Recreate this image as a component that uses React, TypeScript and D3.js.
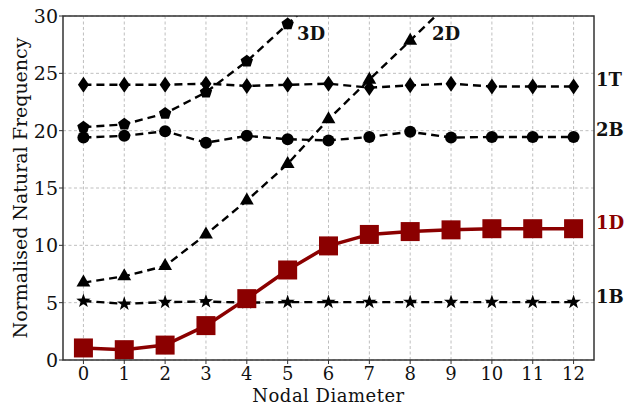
import React from "react";
import * as d3 from "d3";

const nodalDiameters = [0, 1, 2, 3, 4, 5, 6, 7, 8, 9, 10, 11, 12];
const yTicks = [0, 5, 10, 15, 20, 25, 30];

const mode1T = [24.0, 24.0, 24.0, 24.1, 23.9, 24.0, 24.1, 23.75, 23.95, 24.1, 23.85, 23.85, 23.85];
const mode2B = [19.4, 19.55, 19.95, 18.95, 19.55, 19.25, 19.15, 19.45, 19.9, 19.4, 19.45, 19.45, 19.45];
const mode3D = [20.3, 20.55, 21.5, 23.35, 26.05, 29.3, 32.5];
const mode2D = [6.75, 7.3, 8.2, 10.95, 13.9, 17.1, 21.0, 24.45, 27.85, 31.3];
const mode1B = [5.15, 4.9, 5.05, 5.1, 5.0, 5.05, 5.05, 5.05, 5.05, 5.05, 5.05, 5.05, 5.05];
const mode1D = [1.05, 0.9, 1.3, 3.0, 5.35, 7.85, 9.95, 10.95, 11.2, 11.35, 11.45, 11.45, 11.45];

const W = 634, H = 406;
const M = { left: 63, right: 594, top: 16, bottom: 360 };

function starPath(r: number) {
  const pts: string[] = [];
  for (let i = 0; i < 10; i++) {
    const rr = i % 2 === 0 ? r : r * 0.4;
    const a = -Math.PI / 2 + (i * Math.PI) / 5;
    pts.push(`${(rr * Math.cos(a)).toFixed(2)},${(rr * Math.sin(a)).toFixed(2)}`);
  }
  return "M" + pts.join("L") + "Z";
}
function polyPath(n: number, r: number) {
  const pts: string[] = [];
  for (let i = 0; i < n; i++) {
    const a = -Math.PI / 2 + (i * 2 * Math.PI) / n;
    pts.push(`${(r * Math.cos(a)).toFixed(2)},${(r * Math.sin(a)).toFixed(2)}`);
  }
  return "M" + pts.join("L") + "Z";
}
const diamond = "M0,-8L5.5,0L0,8L-5.5,0Z";
const triangle = polyPath(3, 8);
const pentagon = polyPath(5, 6.5);
const star = starPath(7.5);

export default function App() {
  const x = d3.scaleLinear().domain([-0.5, 12.5]).range([M.left, M.right]);
  const y = d3.scaleLinear().domain([0, 30]).range([M.bottom, M.top]);
  const line = d3
    .line<number>()
    .x((_, i) => x(nodalDiameters[i]))
    .y((d) => y(d));

  const serif = "'DejaVu Serif', serif";
  const series = [
    { data: mode1T, marker: diamond },
    { data: mode2B, marker: "circle" },
    { data: mode3D, marker: pentagon },
    { data: mode2D, marker: triangle },
    { data: mode1B, marker: star },
  ];

  return (
    <svg width={W} height={H} style={{ position: "absolute", left: 0, top: 0 }}>
      <defs>
        <clipPath id="plot">
          <rect x={M.left} y={M.top} width={M.right - M.left} height={M.bottom - M.top} />
        </clipPath>
      </defs>
      <rect width={W} height={H} fill="#fff" />
      {/* grid */}
      {nodalDiameters.map((d) => (
        <line key={"gx" + d} x1={x(d)} x2={x(d)} y1={M.top} y2={M.bottom} stroke="#b8b8b8" strokeWidth={0.9} strokeDasharray="3,2.5" />
      ))}
      {yTicks.map((t) => (
        <line key={"gy" + t} x1={M.left} x2={M.right} y1={y(t)} y2={y(t)} stroke="#b8b8b8" strokeWidth={0.9} strokeDasharray="3,2.5" />
      ))}
      <g clipPath="url(#plot)">
        {series.map((s, si) => (
          <g key={si}>
            <path d={line(s.data) || ""} fill="none" stroke="#000" strokeWidth={2.4} strokeDasharray="8,5" />
            {s.data.map((v, i) =>
              s.marker === "circle" ? (
                <circle key={i} cx={x(nodalDiameters[i])} cy={y(v)} r={6} fill="#000" />
              ) : (
                <path key={i} d={s.marker} transform={`translate(${x(nodalDiameters[i])},${y(v)})`} fill="#000" />
              )
            )}
          </g>
        ))}
        <path d={line(mode1D) || ""} fill="none" stroke="#8b0000" strokeWidth={3.5} />
        {mode1D.map((v, i) => (
          <rect key={i} x={x(nodalDiameters[i]) - 9.5} y={y(v) - 9.5} width={19} height={19} fill="#8b0000" />
        ))}
      </g>
      {/* spines */}
      <rect x={M.left} y={M.top} width={M.right - M.left} height={M.bottom - M.top} fill="none" stroke="#333" strokeWidth={1.5} />
      {/* y ticks */}
      {yTicks.map((t) => (
        <g key={"yt" + t}>
          <line x1={M.left - 4} x2={M.left} y1={y(t)} y2={y(t)} stroke="#333" strokeWidth={1} />
          <text x={M.left - 5} y={y(t)} dy="0.36em" textAnchor="end" fontFamily={serif} fontSize={19} fill="#111">{t}</text>
        </g>
      ))}
      {nodalDiameters.map((d) => (
        <g key={"xt" + d}>
          <line x1={x(d)} x2={x(d)} y1={M.bottom} y2={M.bottom + 4} stroke="#333" strokeWidth={1} />
          <text x={x(d)} y={380} textAnchor="middle" fontFamily={serif} fontSize={18} fill="#111">{d}</text>
        </g>
      ))}
      <text x={(M.left + M.right) / 2} y={402} textAnchor="middle" fontFamily={serif} fontSize={18} letterSpacing={0.5} fill="#111">Nodal Diameter</text>
      <text transform={`translate(27,${(M.top + M.bottom) / 2}) rotate(-90)`} textAnchor="middle" fontFamily={serif} fontSize={19} fill="#111">Normalised Natural Frequency</text>
      {/* mode labels */}
      <text x={297} y={40} fontFamily={serif} fontWeight="bold" fontSize={18} fill="#111">3D</text>
      <text x={432} y={40} fontFamily={serif} fontWeight="bold" fontSize={18} fill="#111">2D</text>
      <text x={596} y={86} fontFamily={serif} fontWeight="bold" fontSize={18} fill="#111">1T</text>
      <text x={596} y={136} fontFamily={serif} fontWeight="bold" fontSize={18} fill="#111">2B</text>
      <text x={596} y={229} fontFamily={serif} fontWeight="bold" fontSize={18} fill="#8b0000">1D</text>
      <text x={596} y={303} fontFamily={serif} fontWeight="bold" fontSize={18} fill="#111">1B</text>
    </svg>
  );
}
